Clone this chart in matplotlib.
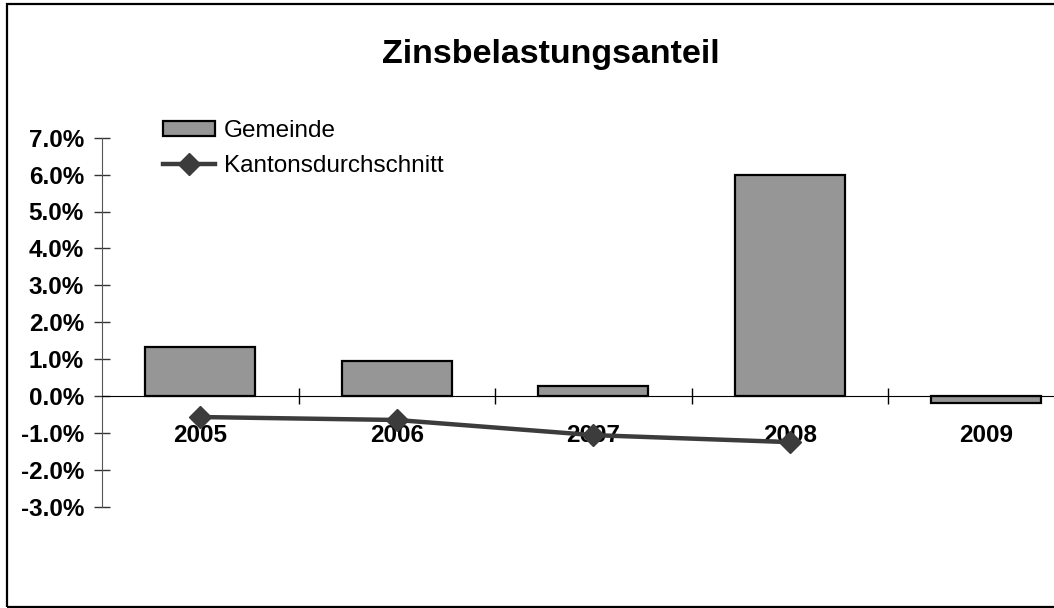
import matplotlib
matplotlib.use('Agg')
import matplotlib.pyplot as plt
from matplotlib.patches import Rectangle
from matplotlib.ticker import FuncFormatter, FixedLocator
import numpy as np

plt.rcParams['font.family'] = ['Liberation Sans', 'DejaVu Sans']
plt.rcParams['font.weight'] = 'bold'

# data (values in percent)
years = ['2005', '2006', '2007', '2008', '2009']
gemeinde = [1.32, 0.95, 0.26, 6.0, -0.2]
kanton = [-0.57, -0.65, -1.06, -1.25]
title = 'Zinsbelastungsanteil'

W, H = 1054, 608
fig = plt.figure(figsize=(W / 100, H / 100), dpi=100)

# plot area in pixels: y axis at x=102, 7% at y=137.7, -3% at y=506.7
left, top, bottom = 102, 137.7, 506.7
ax = fig.add_axes([left / W, 1 - bottom / H, (W - left) / W, (bottom - top) / H])
ax.patch.set_alpha(0)

x = np.arange(len(years))
bars = ax.bar(x, gemeinde, width=0.56, color='#969696', edgecolor='black',
              linewidth=1.6, label='Gemeinde', zorder=2)
line, = ax.plot(x[:len(kanton)], kanton, color='#3c3c3c', lw=3.2, marker='D',
                markersize=11, label='Kantonsdurchschnitt', zorder=3)

ax.set_ylim(-3, 7)
ax.set_xlim(-0.5, -0.5 + (W - left) / 196.5)

ax.set_yticks(np.arange(-3, 8, 1))
ax.yaxis.set_major_formatter(FuncFormatter(lambda v, p: '%.1f%%' % v))
ax.tick_params(axis='y', direction='inout', length=12, width=1,
               color='#333333', pad=7, labelsize=17.5)

ax.set_xticks(x)
ax.set_xticklabels(years)
ax.xaxis.set_minor_locator(FixedLocator(x[:-1] + 0.5))
ax.tick_params(axis='x', which='major', length=0, pad=20, labelsize=17.5)
ax.tick_params(axis='x', which='minor', direction='inout', length=12,
               width=1, color='black')

ax.spines['top'].set_visible(False)
ax.spines['right'].set_visible(False)
ax.spines['left'].set_color('#555555')
ax.spines['bottom'].set_position(('data', 0))
ax.spines['bottom'].set_color('black')

fig.text(551 / W, 1 - 63 / H, title, ha='center', va='baseline',
         fontsize=24.5, fontweight='bold')

ax.legend([bars, line], ['Gemeinde', 'Kantonsdurchschnitt'],
          loc='upper left', bbox_to_anchor=(163 / W, 1 - 120 / H),
          bbox_transform=fig.transFigure, frameon=False,
          prop={'size': 17.5, 'weight': 'normal'},
          borderpad=0, borderaxespad=0, handlelength=2.15, handleheight=0.62,
          handletextpad=0.35, labelspacing=0.55)

# outer chart frame (right side is cut off in the reference)
fig.add_artist(Rectangle((7 / W, 1 - 606.5 / H), 1.2, (606.5 - 3.5) / H,
                         transform=fig.transFigure, fill=False,
                         edgecolor='black', linewidth=1.6))

fig.savefig('out.png', dpi=100)
